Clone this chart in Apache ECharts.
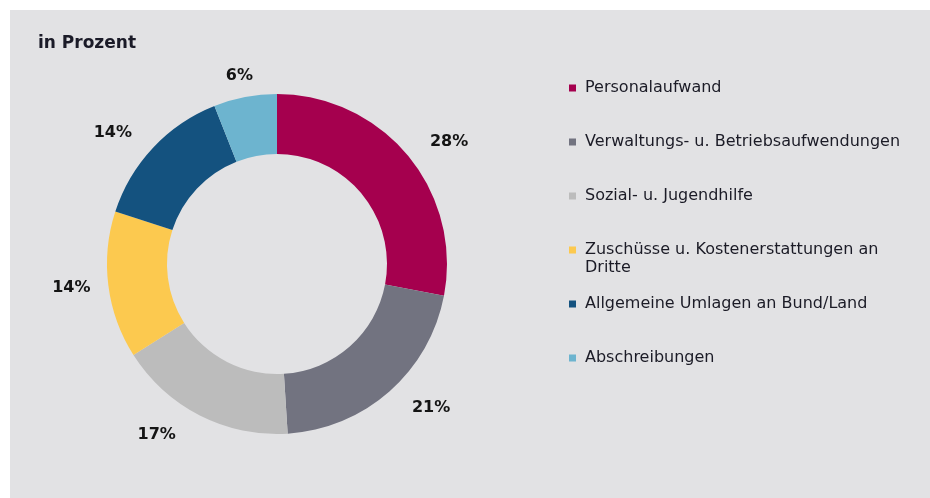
<!DOCTYPE html>
<html>
<head>
<meta charset="utf-8">
<script src="https://cdn.jsdelivr.net/npm/echarts@6.0.0/dist/echarts.min.js"></script>
<style>
  html, body { margin: 0; padding: 0; background: #ffffff; }
  #chart { position: absolute; left: 10px; top: 10px; width: 920px; height: 488px; }
</style>
</head>
<body>
<div id="chart"></div>
<script>
  // Expense shares, in percent
  const categories = [
    "Personalaufwand",
    "Verwaltungs- u. Betriebsaufwendungen",
    "Sozial- u. Jugendhilfe",
    "Zuschüsse u. Kostenerstattungen an Dritte",
    "Allgemeine Umlagen an Bund/Land",
    "Abschreibungen",
  ];
  const values = [28, 21, 17, 14, 14, 6];
  const colors = ["#a5004e", "#727380", "#bcbcbc", "#fcc94f", "#14527f", "#6db4cf"];

  // legend lines: the long item breaks after "an"
  const legendLines = {
    "Zuschüsse u. Kostenerstattungen an Dritte": ["Zuschüsse u. Kostenerstattungen an", "Dritte"],
  };

  // small nudges of the outside labels (gap between anchor and text)
  const labelGap = { 1: 8, 2: 14, 3: -4, 5: -12 };

  function legendFormatter(name) {
    const lines = legendLines[name] || [name, " "];
    // a blank first line keeps the icon next to the first text line
    return [" "].concat(lines).join("\n");
  }

  const data = categories.map((name, i) => {
    const item = { name, value: values[i], itemStyle: { color: colors[i] } };
    if (labelGap[i] !== undefined) {
      item.label = { distanceToLabelLine: labelGap[i] };
    }
    return item;
  });

  const chart = echarts.init(document.getElementById("chart"), null, { renderer: "canvas" });

  chart.setOption({
    backgroundColor: "#e2e2e4",
    animation: false,
    textStyle: { fontFamily: "DejaVu Sans" },
    title: {
      text: "in Prozent",
      left: 28,
      top: 25,
      padding: 0,
      textStyle: { fontFamily: "DejaVu Sans", fontSize: 17, fontWeight: "bold", color: "#1b1b28" },
    },
    legend: {
      orient: "vertical",
      left: 559,
      top: 51,
      padding: 0,
      itemGap: 0,
      itemWidth: 7,
      itemHeight: 7,
      icon: "rect",
      selectedMode: false,
      data: categories,
      formatter: legendFormatter,
      textStyle: {
        fontFamily: "DejaVu Sans",
        fontSize: 16,
        lineHeight: 18,
        color: "#1b1b26",
        padding: [0, 0, 0, 4],
      },
    },
    series: [
      {
        name: "Anteile",
        type: "pie",
        center: [267, 254],
        radius: [110, 170],
        startAngle: 90,
        clockwise: true,
        avoidLabelOverlap: false,
        data: data,
        label: {
          show: true,
          position: "outside",
          formatter: "{c}%",
          fontFamily: "DejaVu Sans",
          fontSize: 16,
          fontWeight: "bold",
          color: "#141414",
        },
        labelLine: { show: false, length: 22, length2: 0 },
        emphasis: { disabled: true },
      },
    ],
  });
</script>
</body>
</html>
